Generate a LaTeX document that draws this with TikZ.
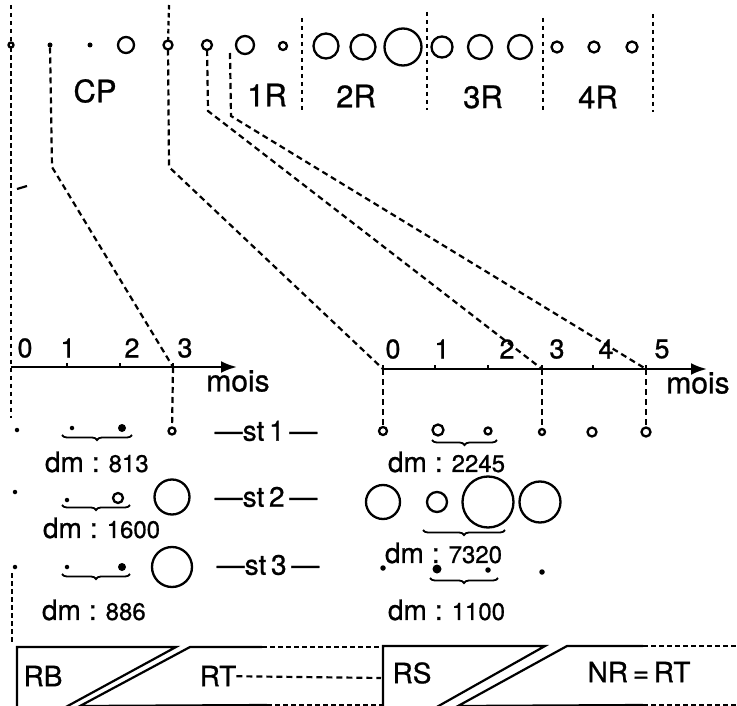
\documentclass[tikz,border=0pt]{standalone}
\usepackage{fontspec}
\setmainfont{TeX Gyre Heros}[FakeBold=0.8]
\usetikzlibrary{shapes,arrows,arrows.meta,decorations.pathreplacing}

\newcommand{\fsz}[1]{\fontsize{#1}{#1}\selectfont}
\newcommand{\dmlabel}[1]{{\fsz{28}dm\hspace{8pt}:\hspace{9pt}}{\fsz{24}#1}}

\begin{document}
\begin{tikzpicture}[x=1pt,y=-1pt,line width=2.2pt]
\tikzstyle{every node}=[inner sep=0pt,outer sep=0pt]
\tikzstyle{cell}=[circle,draw,line width=2.3pt]
\tikzstyle{grain}=[circle,fill,minimum size=4.5pt]
\tikzstyle{blob}=[circle,fill,minimum size=8pt]
\tikzstyle{link}=[dash pattern=on 6pt off 4pt]
\tikzstyle{fence}=[dash pattern=on 4.5pt off 3.5pt]
\tikzstyle{lab}=[font=\fsz{31}]
\tikzstyle{num}=[font=\fsz{27}]
\tikzstyle{row}=[font=\fsz{28}]
\tikzstyle{curly}=[decorate,decoration={brace,mirror,amplitude=5pt},line width=1.8pt]
\tikzstyle{axis}=[-{Latex[length=16pt,width=12pt]},line width=2.5pt]

\useasboundingbox (0,0) rectangle (737,706);

% rangee du haut
\node[cell,minimum size=5pt] (c0) at (11,45) {};
\node[grain,minimum size=5pt] (d1) at (50,45) {};
\node[grain,minimum size=5pt] (d2) at (90,45) {};
\node[cell,minimum size=16pt] (c1) at (126,45) {};
\node[cell,minimum size=9pt] (c2) at (168,45) {};
\node[cell,minimum size=10pt] (r1a) at (207,45) {};
\node[cell,minimum size=18pt] (r1b) at (245,45) {};
\node[cell,minimum size=8pt] (r1c) at (283,46) {};
\node[cell,minimum size=25pt] (r2a) at (326,46) {};
\node[cell,minimum size=25pt] (r2b) at (363,47) {};
\node[cell,minimum size=37pt] (r2c) at (403,47) {};
\node[cell,minimum size=21pt] (r3a) at (442,47) {};
\node[cell,minimum size=24pt] (r3b) at (480,47) {};
\node[cell,minimum size=24pt] (r3c) at (520,47) {};
\node[cell,minimum size=11pt] (r4a) at (557,47) {};
\node[cell,minimum size=11pt] (r4b) at (594,47) {};
\node[cell,minimum size=11pt] (r4c) at (632,47) {};

\foreach \x/\a/\b in {302/18/110,427/12/110,543/18/110,653/14/112}
  \draw[fence] (\x,\a) -- (\x,\b);

\node[lab] (cp) at (95,91) {CP};
\node[lab] (p1) at (267,95) {1R};
\node[lab] (p2) at (356,96) {2R};
\node[lab] (p3) at (483,97) {3R};
\node[lab] (p4) at (598,97) {4R};

% axes
\coordinate (a0) at (11,367);
\coordinate (a1) at (67,367);
\coordinate (a2) at (120,367);
\coordinate (a3) at (173,367);
\coordinate (ae) at (237,367);
\coordinate (o0) at (383,369);
\coordinate (o1) at (435,369);
\coordinate (o2) at (488,369);
\coordinate (o3) at (542,369);
\coordinate (o4) at (593,369);
\coordinate (o5) at (646,369);
\coordinate (oe) at (707,369);
\draw[axis] (a0) -- (ae);
\draw[axis] (o0) -- (oe);
\foreach \t in {a1,a2,a3,o0,o1,o2,o3,o4,o5}
  \draw (\t) -- ++(0,-4);

\node[num] (n0) at (25,348) {0};
\node[num] (n1) at (68,348) {1};
\node[num] (n2) at (132,348) {2};
\node[num] (n3) at (185,348) {3};
\node[num] (m0) at (393,349) {0};
\node[num] (m1) at (442,349) {1};
\node[num] (m2) at (507,349) {2};
\node[num] (m3) at (557,349) {3};
\node[num] (m4) at (606,349) {4};
\node[num] (m5) at (662,349) {5};
\node[font=\fsz{30}] (u0) at (238,381) {mois};
\node[font=\fsz{30}] (u1) at (698,383) {mois};

% st 1
\node[grain] (l1a) at (17,430) {};
\node[grain] (l1b) at (72,428) {};
\node[blob] (l1c) at (122,428) {};
\node[cell,minimum size=7pt] (l1d) at (172,431) {};
\node[row] (st1) at (266,431) {---st\,1\,---};
\node[cell,minimum size=8pt] (m1a) at (383,431) {};
\node[cell,minimum size=11pt] (m1b) at (438,430) {};
\node[cell,minimum size=7pt] (m1c) at (488,431) {};
\node[cell,minimum size=6pt] (m1d) at (542,432) {};
\node[cell,minimum size=9pt] (m1e) at (592,432) {};
\node[cell,minimum size=9pt] (m1f) at (646,432) {};
\draw[curly] (62,435) -- (132,435);
\draw[curly] (432,440) -- (497,440);
\node[anchor=west] (dm1) at (45,462) {\dmlabel{813}};
\node[anchor=west] (dm2) at (388,462) {\dmlabel{2245}};

% st 2
\node[grain] (l2a) at (15,492) {};
\node[grain] (l2b) at (67,500) {};
\node[cell,minimum size=10pt] (l2c) at (118,498) {};
\node[cell,minimum size=35pt] (l2d) at (172,497) {};
\node[row] (st2) at (266,497) {---st\,2\,---};
\node[cell,minimum size=34pt] (m2a) at (383,502) {};
\node[cell,minimum size=20pt] (m2b) at (437,502) {};
\node[cell,minimum size=51pt] (m2c) at (488,502) {};
\node[cell,minimum size=41pt] (m2d) at (540,502) {};
\draw[curly] (62,505) -- (130,505);
\draw[curly] (423,530) -- (505,530);
\node[anchor=west] (dm3) at (43,528) {\dmlabel{1600}};
\node[anchor=west] (dm4) at (385,553) {\dmlabel{7320}};

% st 3
\node[grain] (l3a) at (15,567) {};
\node[grain] (l3b) at (67,567) {};
\node[blob] (l3c) at (122,567) {};
\node[cell,minimum size=40pt] (l3d) at (172,567) {};
\node[row] (st3) at (268,565) {---st\,3\,---};
\node[grain,minimum size=5.5pt] (m3a) at (383,568) {};
\node[blob,minimum size=9pt] (m3b) at (437,569) {};
\node[grain,minimum size=5.5pt] (m3c) at (488,570) {};
\node[grain,minimum size=5.5pt] (m3d) at (542,572) {};
\draw[curly] (62,574) -- (130,574);
\draw[curly] (430,578) -- (498,578);
\node[anchor=west] (dm5) at (42,610) {\dmlabel{886}};
\node[anchor=west] (dm6) at (388,610) {\dmlabel{1100}};

% liaisons
\coordinate (top0) at (11,5);
\coordinate (bot0) at (11,418);
\draw[fence] (top0) -- (c0) -- (bot0);
\draw (17,189) -- (27,186);
\coordinate (k1) at (52,167);
\draw[link] (d1) -- (k1) -- (a3);
\coordinate (top2) at (169,5);
\coordinate (k2) at (169,167);
\draw[fence] (top2) -- (c2);
\draw[link] (c2) -- (k2) -- (o0);
\coordinate (k3) at (208,111);
\draw[link] (r1a) -- (k3) -- (o3);
\coordinate (s4) at (230,53);
\coordinate (k4) at (231,116);
\draw[link] (s4) -- (k4) -- (o5);
\draw[link] (a3) -- (l1d);
\draw[link] (o0) -- (m1a);
\draw[link] (o3) -- (m1d);
\draw[link] (o5) -- (m1f);

% bandeau du bas
\coordinate (g0) at (12,573);
\coordinate (g1) at (12,645);
\draw[fence] (g0) -- (g1);
\coordinate (q0) at (17,647);
\coordinate (q1) at (176,647);
\coordinate (q2) at (64,708);
\coordinate (q3) at (80,706);
\coordinate (q4) at (190,647);
\coordinate (q5) at (262,647);
\coordinate (q6) at (267,705);
\draw (17,708) -- (q0) -- (q1) -- (q2);
\draw (q6) -- (q3) -- (q4) -- (q5);
\draw[fence] (q5) -- (383,647);
\draw[fence] (q6) -- (383,705);
\coordinate (v0) at (383,646);
\coordinate (v1) at (545,646);
\coordinate (v2) at (435,708);
\coordinate (v3) at (458,706);
\coordinate (v4) at (567,646);
\coordinate (v5) at (643,646);
\coordinate (v6) at (643,705);
\draw (383,708) -- (v0) -- (v1) -- (v2);
\draw (v6) -- (v3) -- (v4) -- (v5);
\draw[fence] (v5) -- (737,646);
\draw[fence] (v6) -- (737,705);

\node[row] (rb) at (43,676) {RB};
\node[row] (rt) at (218,676) {RT};
\coordinate (w) at (381,678);
\draw[link] (rt) -- (w);
\node[row] (rs) at (412,673) {RS};
\node[row] (nr) at (639,672) {NR\,=\,RT};
\end{tikzpicture}
\end{document}
